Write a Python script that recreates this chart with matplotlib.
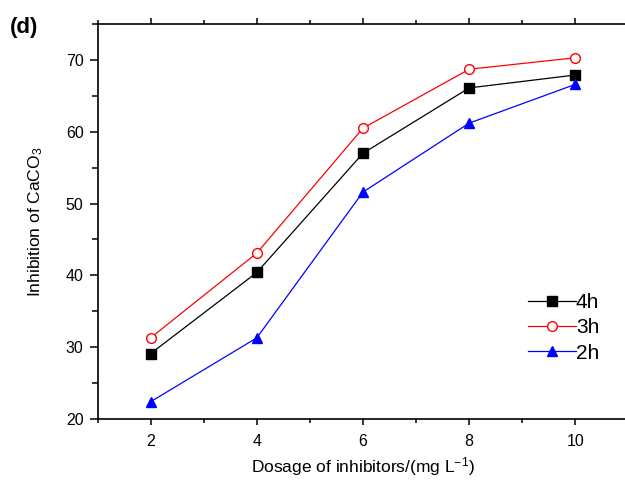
import matplotlib.pyplot as plt
from matplotlib.ticker import MultipleLocator

plt.rcParams["font.family"] = ["Liberation Sans", "DejaVu Sans"]
plt.rcParams["mathtext.fontset"] = "custom"
plt.rcParams["mathtext.rm"] = "Liberation Sans"
plt.rcParams["mathtext.it"] = "Liberation Sans:italic"

dosage = [2, 4, 6, 8, 10]
inhib_4h = [29.1, 40.4, 57.0, 66.1, 67.9]
inhib_3h = [31.3, 43.1, 60.5, 68.7, 70.3]
inhib_2h = [22.4, 31.3, 51.6, 61.2, 66.6]

fig = plt.figure(figsize=(6.25, 4.82), dpi=100)
ax = fig.add_axes([97.5 / 625, 1 - 419 / 482, (628.5 - 97.5) / 625, (419 - 24) / 482])

ax.plot(dosage, inhib_4h, color="black", lw=0.9, marker="s", ms=6.5, mfc="black", mec="black", label="4h")
ax.plot(dosage, inhib_3h, color="red", lw=0.9, marker="o", ms=7, mfc="white", mec="red", label="3h")
ax.plot(dosage, inhib_2h, color="blue", lw=0.9, marker="^", ms=7.5, mfc="blue", mec="blue", label="2h")

ax.set_xlim(1, 11)
ax.set_ylim(20, 75)
ax.xaxis.set_major_locator(MultipleLocator(2))
ax.xaxis.set_minor_locator(MultipleLocator(1))
ax.yaxis.set_major_locator(MultipleLocator(10))
ax.yaxis.set_minor_locator(MultipleLocator(5))
ax.tick_params(axis="both", which="both", direction="out", width=1.1, labelsize=11.5, top=True)
ax.tick_params(axis="x", which="major", length=4, pad=7)
ax.tick_params(axis="x", which="minor", length=3)
ax.tick_params(axis="y", which="major", length=6, pad=4)
ax.tick_params(axis="y", which="minor", length=4)
ax.tick_params(axis="x", which="both", labeltop=False)
for side in ["left", "bottom", "top", "right"]:
    ax.spines[side].set_linewidth(1.2)

ax.set_xlabel("Dosage of inhibitors/(mg L$^{-1}$)", fontsize=12.5, labelpad=4)
ax.set_ylabel("Inhibition of CaCO$_3$", fontsize=12.5, labelpad=15)

ax.legend(loc="upper left", bbox_to_anchor=(0.795, 0.34), frameon=False, fontsize=15,
          handlelength=2.3, handletextpad=0.0, labelspacing=0.3, borderaxespad=0)

fig.text(10 / 625, 1 - 27 / 482, "(d)", fontsize=16, fontweight="bold", va="center")

fig.savefig("out.png", dpi=100)
